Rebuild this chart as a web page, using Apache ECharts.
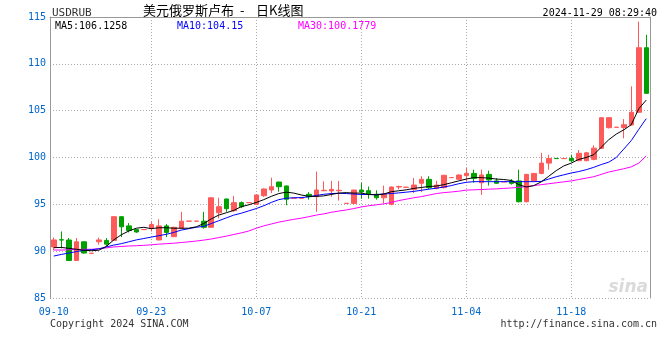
<!DOCTYPE html>
<html><head><meta charset="utf-8">
<script src="https://cdn.jsdelivr.net/npm/echarts@6/dist/echarts.min.js"></script>
<style>html,body{margin:0;padding:0;background:#fff}#c{width:660px;height:360px}</style>
</head><body><div id="c"></div>
<script>
const categories = ['09-10','09-11','09-12','09-13','09-14','09-15','09-16','09-17','09-18','09-19','09-20','09-21','09-22','09-23','09-24','09-25','09-26','09-27','09-28','09-29','09-30',
'10-01','10-02','10-03','10-04','10-05','10-06','10-07','10-08','10-09','10-10','10-11','10-12','10-13','10-14','10-15','10-16','10-17','10-18','10-19','10-20','10-21','10-22','10-23','10-24','10-25','10-26','10-27','10-28','10-29','10-30','10-31',
'11-01','11-02','11-03','11-04','11-05','11-06','11-07','11-08','11-09','11-10','11-11','11-12','11-13','11-14','11-15','11-16','11-17','11-18','11-19','11-20','11-21','11-22','11-23','11-24','11-25','11-26','11-27','11-28'];
const tickLabels = ['09-10','09-23','10-07','10-21','11-04','11-18'];
const opens = [90.45,91.22,91.19,89.0,91.0,89.77,91.0,91.15,91.15,93.68, 92.7,92.3,92.3,92.45,91.2,92.7,91.55,92.45,93.2,93.2, 93.2,92.55,94.1,95.57,94.32,95.18,95.18,95.0,95.92,96.53, 97.38,96.96,95.65,95.65,96.07,95.82,96.45,96.43,96.45,95.1, 95.1,96.53,96.46,96.07,95.7,95.0,96.85,96.82,96.6,97.25, 97.67,96.7,96.78,97.85,97.67,98.06,98.3,97.3,98.2,97.5, 97.4,97.5,97.5,95.28,97.5,98.3,99.4,99.9,99.88,99.9, 99.66,99.66,99.8,100.98,103.18,103.22,103.2,103.47,104.83,111.72];
const closes = [91.2,91.19,89.0,91.0,89.8,89.78,91.2,90.75,93.68,92.6, 92.2,92.05,92.31,92.85,92.7,92.0,92.55,93.2,93.21,93.21, 92.55,95.7,94.75,94.53,95.18,94.75,95.19,96.0,96.64,96.88, 96.88,95.54,95.66,95.66,95.82,96.53,96.5,96.6,96.5,95.11, 96.53,96.32,96.07,95.7,96.07,96.85,96.9,96.83,97.06,97.67, 96.78,97.06,98.1,97.86,98.13,98.32,97.78,98.13,97.6,97.25, 97.41,97.24,95.28,98.2,98.3,99.4,99.9,99.88,99.89,99.65, 100.45,100.5,101.0,104.25,104.25,103.23,103.5,104.83,111.72,106.85];
const lows = [90.1,90.3,88.95,88.95,89.75,89.77,90.7,90.5,91.1,91.5, 92.0,91.95,92.3,92.1,91.15,91.5,91.5,92.4,93.2,93.2, 92.4,92.5,93.5,94.2,94.2,94.6,95.18,95.0,95.8,96.2, 96.35,94.9,95.65,95.65,95.5,94.2,96.4,95.8,95.4,95.1, 95.05,95.6,95.6,95.5,95.1,94.9,96.6,96.82,96.2,96.3, 96.6,96.6,96.7,97.85,97.6,97.45,97.3,96.0,97.0,97.2, 97.4,97.1,95.2,95.2,97.4,98.2,98.7,99.88,99.88,99.5, 99.6,99.6,99.7,100.9,103.1,103.22,102.05,103.4,104.8,106.8];
const highs = [91.45,92.1,91.4,91.4,91.05,89.78,91.45,91.4,93.7,93.7, 93.0,92.35,92.31,93.15,93.4,92.9,92.6,94.2,93.21,93.21, 94.2,95.75,95.7,95.6,95.9,95.3,95.19,96.05,96.7,97.84, 97.4,97.0,95.66,95.66,96.3,98.5,97.45,97.5,97.5,95.11, 96.55,97.3,96.9,96.5,97.0,96.9,97.0,96.83,97.8,98.0, 98.0,97.5,98.15,97.86,98.2,98.9,98.7,98.7,98.6,97.8, 97.41,97.7,98.7,98.25,98.35,100.5,100.3,99.9,99.89,100.3, 100.8,100.6,101.3,104.3,104.3,103.23,104.1,107.6,114.5,113.1];
const ma5 = [90.37,90.4,90.3,90.2,90.1,90.05,90.1,90.5,91.2,91.75, 92.15,92.45,92.55,92.4,92.5,92.5,92.45,92.45,92.45,92.6, 92.95,93.45,93.85,94.1,94.35,94.75,94.95,95.2,95.5,95.85, 96.15,96.3,96.2,96.0,95.85,95.85,95.9,96.05,96.2,96.25, 96.2,96.2,96.05,96.0,96.1,96.35,96.45,96.55,96.7,96.8, 96.9,96.95,97.1,97.3,97.5,97.7,97.85,97.85,97.8,97.7, 97.65,97.55,97.1,96.85,97.0,97.4,98.0,98.6,99.1,99.4, 99.8,100.0,100.3,101.1,101.9,102.5,102.95,103.5,105.2,106.13];
const ma10 = [89.48,89.65,89.8,89.95,90.1,90.15,90.25,90.45,90.65,90.8, 91.0,91.2,91.35,91.5,91.65,91.8,92.0,92.25,92.4,92.55, 92.65,92.95,93.25,93.55,93.85,94.05,94.3,94.55,94.85,95.2, 95.5,95.65,95.7,95.72,95.8,95.95,96.07,96.15,96.18,96.15, 96.1,96.05,96.05,96.05,96.1,96.15,96.22,96.3,96.38,96.5, 96.62,96.72,96.85,97.0,97.2,97.35,97.42,97.42,97.42,97.42, 97.42,97.42,97.42,97.42,97.42,97.45,97.7,97.95,98.15,98.35, 98.5,98.7,98.95,99.25,99.5,100.0,100.9,101.8,103.0,104.15];
const ma30 = [90.12,90.12,90.15,90.18,90.2,90.2,90.25,90.35,90.45,90.5, 90.55,90.58,90.62,90.68,90.75,90.8,90.85,90.92,91.0,91.08, 91.18,91.3,91.45,91.6,91.78,91.95,92.15,92.45,92.7,92.9, 93.1,93.25,93.4,93.52,93.68,93.85,93.98,94.15,94.28,94.4, 94.55,94.72,94.85,94.95,95.05,95.2,95.4,95.55,95.7,95.82, 95.98,96.15,96.25,96.32,96.4,96.52,96.55,96.58,96.62,96.65, 96.7,96.75,96.82,96.88,97.0,97.1,97.2,97.3,97.4,97.5, 97.65,97.8,97.95,98.2,98.45,98.62,98.8,99.0,99.4,100.18];
const legendText = ['MA5:106.1258','MA10:104.15','MA30:100.1779'];

const kdata = opens.map((o,i)=>[o, closes[i], lows[i], highs[i]]);
const MONO = '"DejaVu Sans Mono", monospace';
const GRID = '#aaaaaa';
const chart = echarts.init(document.getElementById('c'), null, {renderer:'canvas'});
const isTick = (i, v) => tickLabels.includes(categories[i]);
chart.setOption({
  animation: false,
  backgroundColor: '#fff',
  grid: {left: 50, right: 10, top: 17, bottom: 62},
  xAxis: [{
    type: 'category', data: categories, boundaryGap: true,
    axisLine: {show: false}, axisTick: {show: false},
    axisLabel: {interval: isTick, color: '#0066cc', fontFamily: MONO, fontSize: 10, margin: 9},
    splitLine: {show: true, alignWithLabel: true, interval: (i) => i > 0 && tickLabels.includes(categories[i]), lineStyle: {color: GRID, type: [1,2], width: 1}}
  }, {
    type: 'category', data: categories, position: 'top',
    axisLine: {show: true, lineStyle: {color: '#999', width: 1}}, axisTick: {show: false}, axisLabel: {show: false}, splitLine: {show: false}
  }],
  yAxis: [{
    type: 'value', min: 85, max: 115, interval: 5,
    axisLine: {show: true, lineStyle: {color: '#999', width: 1}}, axisTick: {show: false},
    axisLabel: {color: '#0066cc', fontFamily: MONO, fontSize: 10, margin: 4},
    splitLine: {show: true, lineStyle: {color: GRID, type: [1,2], width: 1}}
  }, {
    type: 'value', min: 85, max: 115, interval: 5, position: 'right',
    axisLine: {show: true, lineStyle: {color: '#999', width: 1}}, axisTick: {show: false}, axisLabel: {show: false}, splitLine: {show: false}
  }],
  series: [{
    type: 'candlestick', data: kdata, barWidth: 5,
    itemStyle: {color: '#ff5a5a', color0: '#00a000', borderColor: '#ff5a5a', borderColor0: '#00a000', borderWidth: 1}
  }, {
    type: 'line', data: ma30, symbol: 'none', lineStyle: {color: '#ff00ff', width: 1}, z: 3
  }, {
    type: 'line', data: ma10, symbol: 'none', lineStyle: {color: '#0000ff', width: 1}, z: 3
  }, {
    type: 'line', data: ma5, symbol: 'none', lineStyle: {color: '#000000', width: 1}, z: 3
  }],
  graphic: [
    {type: 'text', left: 52, top: 8, style: {text: 'USDRUB', fill: '#333', font: '11px ' + MONO}},
    {type: 'text', left: 143, top: 4, style: {text: '美元俄罗斯卢布', fill: '#000', font: '13px "Noto Sans CJK SC"'}},
    {type: 'text', left: 240, top: 4, style: {text: '-', fill: '#000', font: '13px "Noto Sans CJK SC"'}},
    {type: 'text', left: 256, top: 4, style: {text: '日K线图', fill: '#000', font: '13px "Noto Sans CJK SC"'}},
    {type: 'text', right: 3, top: 8, style: {text: '2024-11-29 08:29:40', fill: '#000', font: '10px ' + MONO}},
    {type: 'text', left: 55, top: 21, style: {text: legendText[0], fill: '#000', font: '10px ' + MONO}},
    {type: 'text', left: 177, top: 21, style: {text: legendText[1], fill: '#0000ff', font: '10px ' + MONO}},
    {type: 'text', left: 298, top: 21, style: {text: legendText[2], fill: '#ff00ff', font: '10px ' + MONO}},
    {type: 'text', left: 50, top: 319, style: {text: 'Copyright 2024 SINA.COM', fill: '#333', font: '10px ' + MONO}},
    {type: 'text', right: 3, top: 319, style: {text: 'http://finance.sina.com.cn', fill: '#333', font: '10px ' + MONO}},
    {type: 'text', right: 12, top: 279, style: {text: 'sina', fill: '#dadada', font: 'italic bold 17px "DejaVu Sans"'}}
  ]
});
</script></body></html>
